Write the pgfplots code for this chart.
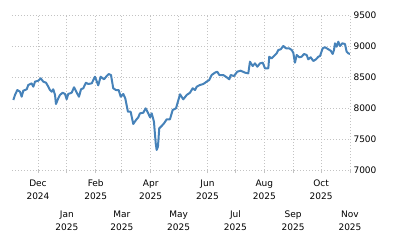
\documentclass[border=0pt]{standalone}
\usepackage{pgfplots}
\pgfplotsset{compat=1.18}
\usepackage{fontspec}
\setmainfont{DejaVu Sans}
\definecolor{linec}{RGB}{70,130,185}
\definecolor{gridc}{RGB}{195,195,195}
\begin{document}
\begin{tikzpicture}
\useasboundingbox (-12pt,-80pt) rectangle (388pt,170pt);
\begin{axis}[
  at={(0pt,0pt)}, anchor=south west,
  scale only axis, width=338pt, height=155pt,
  xmin=-27.9, xmax=335, ymin=7000, ymax=9500,
  axis line style={draw=none},
  ytick={7000,7500,8000,8500,9000,9500},
  yticklabel pos=right,
  ytick style={draw=none},
  yticklabel style={anchor=west, xshift=-3pt, font=\fontsize{9}{11}\selectfont, text=black},
  /pgf/number format/assume math mode=true,
  /pgf/number format/1000 sep={},
  xtick={0,62,121,182,243,304},
  xticklabels={Dec\\2024,Feb\\2025,Apr\\2025,Jun\\2025,Aug\\2025,Oct\\2025},
  xticklabel style={align=center, font=\fontsize{9}{13}\selectfont, text=black, yshift=-3pt},
  extra x ticks={31,90,151,212,274,335},
  extra x tick labels={Jan\\2025,Mar\\2025,May\\2025,Jul\\2025,Sep\\2025,Nov\\2025},
  extra x tick style={grid=major, major grid style={gridc, line width=0.8pt, dash pattern=on 1pt off 2pt}, xticklabel style={yshift=-31pt}},
  xtick pos=bottom,
  tick align=outside,
  major tick length=3pt,
  xtick style={gridc, line width=0.8pt},
  grid=major,
  major grid style={gridc, line width=0.8pt, dash pattern=on 1pt off 2pt},
]
\addplot[linec, line width=2pt, line join=round, mark=none] coordinates {
(-26.5,8129) (-24.7,8210) (-22.2,8290) (-19.3,8263) (-17.5,8182) (-15.8,8279)
(-12.1,8302) (-10.4,8371) (-6.8,8398) (-5.0,8344) (-3.2,8425) (0.3,8440)
(2.9,8479) (5.7,8425) (8.6,8408) (11.1,8344) (12.9,8290) (14.7,8263)
(16.4,8302) (18.3,8210) (19.3,8064) (21.8,8156) (23.6,8210) (26.5,8247)
(29.0,8226) (30.8,8140) (32.5,8226) (36.2,8247) (38.7,8334) (41.6,8247)
(44.0,8182) (46.2,8302) (48.6,8318) (51.5,8408) (54.0,8387) (57.7,8398)
(61.2,8505) (64.7,8366) (67.3,8505) (70.9,8463) (73.8,8516) (75.9,8548)
(78.4,8532) (80.8,8318) (83.7,8290) (86.6,8290) (88.8,8182) (91.6,8226)
(93.7,8156) (96.6,7940) (99.5,7940) (102.3,7742) (105.2,7806) (107.7,7850)
(109.5,7914) (113.1,7924) (115.6,7995) (118.4,7914) (120.3,7850) (122.1,7914)
(124.5,7779) (126.4,7431) (127.4,7323) (128.8,7376) (130.2,7672) (132.8,7710)
(135.3,7753) (138.2,7818) (141.7,7818) (144.6,7968) (148.2,7995) (152.5,8221)
(156.0,8140) (159.7,8210) (163.2,8247) (166.1,8318) (168.6,8290) (170.4,8344)
(173.9,8371) (177.5,8387) (181.1,8425) (183.9,8452) (186.5,8532) (190.0,8570)
(192.5,8586) (194.7,8532) (199.0,8532) (202.6,8495) (205.4,8463) (206.9,8532)
(210.4,8516) (214.0,8586) (217.6,8602) (222.3,8570) (225.8,8559) (227.6,8747)
(230.5,8677) (233.0,8720) (235.5,8666) (238.4,8720) (241.3,8731) (243.7,8640)
(247.3,8640) (248.3,8827) (250.9,8801) (253.4,8839) (256.3,8882) (258.0,8935)
(260.6,8947) (263.4,9000) (266.3,8963) (269.8,8963) (272.4,8935) (274.1,8892)
(275.9,8731) (277.8,8855) (280.6,8818) (283.1,8827) (285.6,8871) (288.5,8855)
(290.2,8785) (292.8,8818) (295.6,8758) (298.5,8785) (301.0,8827) (302.8,8839)
(305.7,8963) (308.2,8980) (311.7,8947) (314.3,8924) (316.4,8871) (317.8,8935)
(318.9,9043) (320.7,8989) (322.4,9069) (324.3,9000) (326.7,9043) (329.6,9032)
(331.4,8908) (333.2,8882) (335.0,8871)
};
\end{axis}
\end{tikzpicture}
\end{document}
